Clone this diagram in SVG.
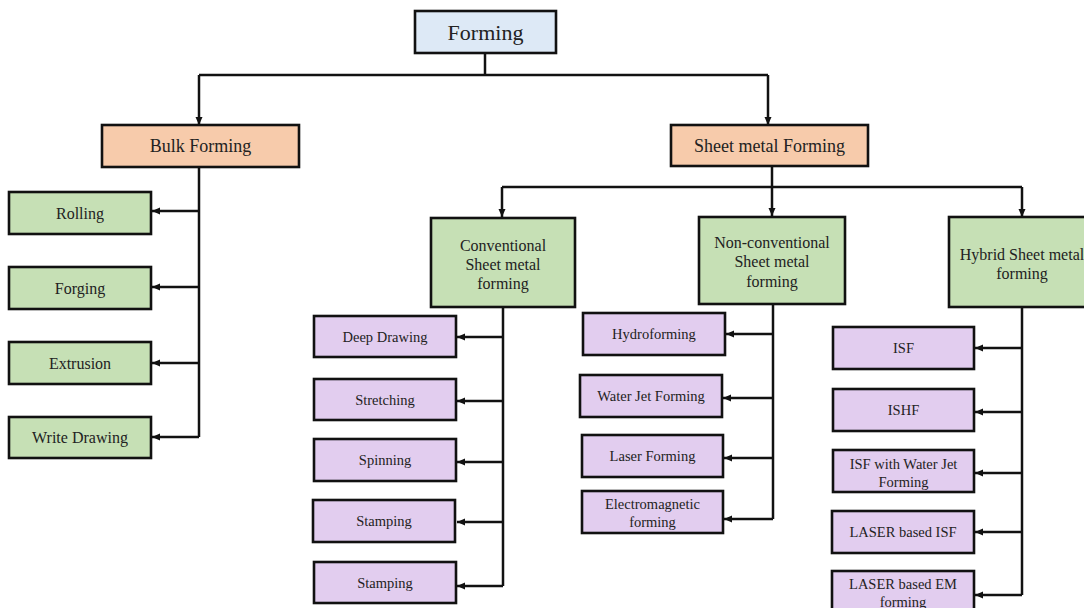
<svg xmlns="http://www.w3.org/2000/svg" width="1084" height="608" viewBox="0 0 1084 608">
<defs>
<marker id="ah" markerUnits="userSpaceOnUse" markerWidth="9" markerHeight="8" refX="8" refY="4" orient="auto">
<path d="M0,0.5 L8,4 L0,7.5 z" fill="#111"/>
</marker>
<style>
.box{stroke:#111;stroke-width:2.6}
.root{fill:#dde9f6}
.cat{fill:#f7cbab}
.grp{fill:#c6e0b5}
.leaf{fill:#e2cdef}
text{font-family:"Liberation Serif","Times New Roman",serif;fill:#222;text-anchor:middle}
.t22{font-size:22px}
.t18{font-size:18px}
.t16{font-size:16px}
.t14{font-size:14.5px}
.ln{fill:none;stroke:#111;stroke-width:2.5}
.ar{fill:none;stroke:#111;stroke-width:2.5;marker-end:url(#ah)}
</style>
</defs>
<rect width="1084" height="608" fill="#fff"/>

<g id="connectors">
<path class="ln" d="M485,53 V75"/>
<path class="ln" d="M199,75 H768"/>
<path class="ar" d="M199,75 V125"/>
<path class="ar" d="M768,75 V125"/>
<path class="ln" d="M199,167 V437"/>
<path class="ar" d="M199,211 H152"/>
<path class="ar" d="M199,287 H152"/>
<path class="ar" d="M199,363 H152"/>
<path class="ar" d="M199,437 H152"/>
<path class="ln" d="M772,166 V187"/>
<path class="ln" d="M502,187 H1022"/>
<path class="ar" d="M502,187 V217"/>
<path class="ar" d="M772,187 V216"/>
<path class="ar" d="M1022,187 V217"/>
<path class="ln" d="M503,307 V586"/>
<path class="ar" d="M503,337 H457"/>
<path class="ar" d="M503,401 H457"/>
<path class="ar" d="M503,462 H457"/>
<path class="ar" d="M503,522 H457"/>
<path class="ar" d="M503,586 H457"/>
<path class="ln" d="M773,304 V519"/>
<path class="ar" d="M773,334 H726"/>
<path class="ar" d="M773,398 H723"/>
<path class="ar" d="M773,458 H724"/>
<path class="ar" d="M773,519 H724"/>
<path class="ln" d="M1022,307 V595"/>
<path class="ar" d="M1022,348 H975"/>
<path class="ar" d="M1022,412 H975"/>
<path class="ar" d="M1022,473 H975"/>
<path class="ar" d="M1022,532 H975"/>
<path class="ar" d="M1022,595 H975"/>
</g>

<g id="forming"><rect class="box root" x="415" y="11" width="141" height="42"/><text class="t22" x="485.5" y="39.5">Forming</text></g>
<g id="bulk"><rect class="box cat" x="102" y="125" width="197" height="42"/><text class="t18" x="200.5" y="152">Bulk Forming</text></g>
<g id="sheet"><rect class="box cat" x="671" y="125" width="197" height="41"/><text class="t18" x="769.5" y="151.5">Sheet metal Forming</text></g>

<g id="rolling"><rect class="box grp" x="9" y="192" width="142" height="42"/><text class="t16" x="80" y="218.5">Rolling</text></g>
<g id="forging"><rect class="box grp" x="9" y="267" width="142" height="42"/><text class="t16" x="80" y="293.5">Forging</text></g>
<g id="extrusion"><rect class="box grp" x="9" y="342" width="142" height="42"/><text class="t16" x="80" y="368.5">Extrusion</text></g>
<g id="write"><rect class="box grp" x="9" y="417" width="142" height="41"/><text class="t16" x="80" y="443">Write Drawing</text></g>

<g id="conventional"><rect class="box grp" x="431" y="218" width="144" height="89"/>
<text class="t16" x="503" y="250.5">Conventional</text><text class="t16" x="503" y="269.5">Sheet metal</text><text class="t16" x="503" y="288.5">forming</text></g>
<g id="nonconventional"><rect class="box grp" x="699" y="217" width="146" height="87"/>
<text class="t16" x="772" y="247.5">Non-conventional</text><text class="t16" x="772" y="267">Sheet metal</text><text class="t16" x="772" y="286.5">forming</text></g>
<g id="hybrid"><rect class="box grp" x="949" y="217" width="146" height="90"/>
<text class="t16" x="1022" y="259.5">Hybrid Sheet metal</text><text class="t16" x="1022" y="278.5">forming</text></g>

<g id="deep"><rect class="box leaf" x="314" y="316" width="142" height="41"/><text class="t14" x="385" y="341.5">Deep Drawing</text></g>
<g id="stretching"><rect class="box leaf" x="314" y="379" width="142" height="41"/><text class="t14" x="385" y="404.5">Stretching</text></g>
<g id="spinning"><rect class="box leaf" x="314" y="439" width="142" height="42"/><text class="t14" x="385" y="465">Spinning</text></g>
<g id="stamping1"><rect class="box leaf" x="313" y="500" width="142" height="42"/><text class="t14" x="384" y="526">Stamping</text></g>
<g id="stamping2"><rect class="box leaf" x="314" y="562" width="142" height="41"/><text class="t14" x="385" y="587.5">Stamping</text></g>

<g id="hydroforming"><rect class="box leaf" x="583" y="313" width="142" height="42"/><text class="t14" x="654" y="339">Hydroforming</text></g>
<g id="waterjet"><rect class="box leaf" x="580" y="375" width="142" height="42"/><text class="t14" x="651" y="401">Water Jet Forming</text></g>
<g id="laser"><rect class="box leaf" x="582" y="435" width="141" height="42"/><text class="t14" x="652.5" y="461">Laser Forming</text></g>
<g id="electromagnetic"><rect class="box leaf" x="582" y="491" width="141" height="42"/><text class="t14" x="652.5" y="508.5">Electromagnetic</text><text class="t14" x="652.5" y="526.5">forming</text></g>

<g id="isf"><rect class="box leaf" x="833" y="327" width="141" height="42"/><text class="t14" x="903.5" y="353">ISF</text></g>
<g id="ishf"><rect class="box leaf" x="833" y="389" width="141" height="42"/><text class="t14" x="903.5" y="415">ISHF</text></g>
<g id="isfwj"><rect class="box leaf" x="833" y="450" width="141" height="42"/><text class="t14" x="903.5" y="469">ISF with Water Jet</text><text class="t14" x="903.5" y="486.5">Forming</text></g>
<g id="laserisf"><rect class="box leaf" x="832" y="511" width="142" height="42"/><text class="t14" x="903" y="537">LASER based ISF</text></g>
<g id="laserem"><rect class="box leaf" x="832" y="571" width="142" height="44"/><text class="t14" x="903" y="589">LASER based EM</text><text class="t14" x="903" y="606.5">forming</text></g>
</svg>
